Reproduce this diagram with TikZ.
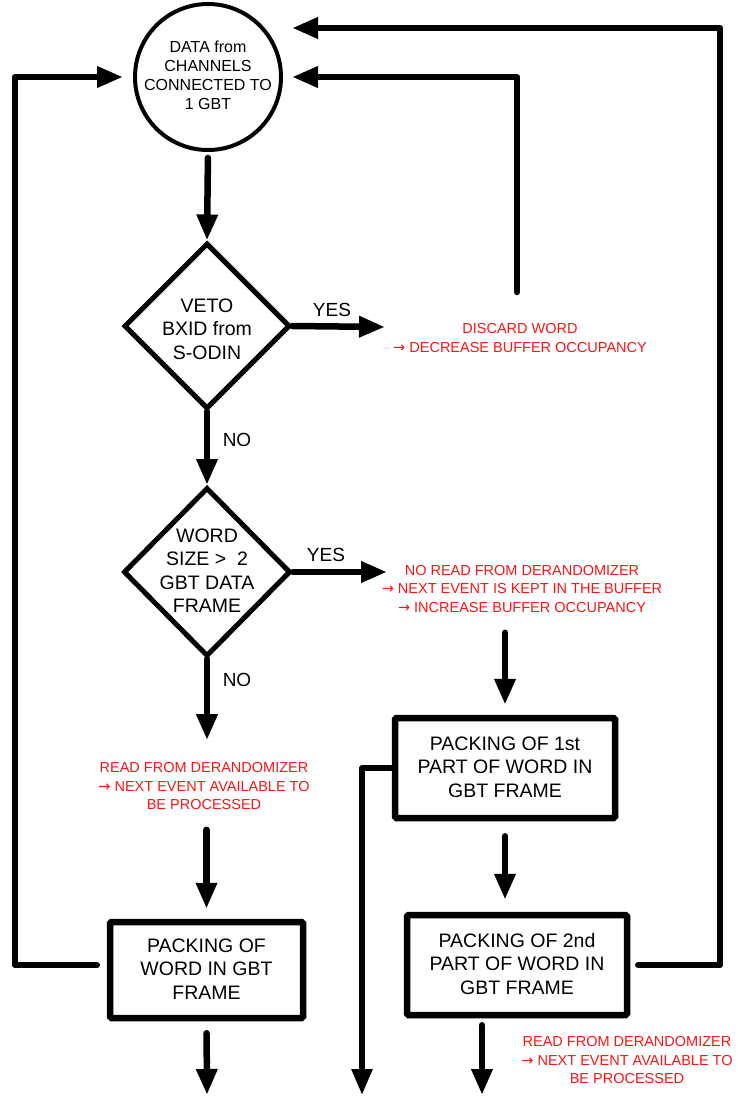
\documentclass[tikz,border=0pt]{standalone}
\usepackage{fontspec}
\setmainfont{Liberation Sans}
\newfontfamily\arrowfont{DejaVu Sans}
\usetikzlibrary{arrows.meta,shapes.geometric}
\definecolor{notered}{RGB}{250,20,20}
% arrow sign used inside the red notes
\newcommand\thenarrow{{\arrowfont →}}
% centred multi-line text that takes no room inside its shape
\newcommand\midtext[2][0pt]{\makebox[0pt]{\smash{\raisebox{#1}{\vbox to 0pt{\vss\hbox{\begin{tabular}{@{}c@{}}#2\end{tabular}}\vss}}}}}
\begin{document}
\begin{tikzpicture}[x=1pt,y=-1pt,
  startnode/.style={circle, draw, line width=4pt, minimum size=146pt, inner sep=0pt,
    font=\fontsize{16}{19}\selectfont},
  test/.style={diamond, draw, line width=5pt, inner sep=0pt, line join=miter,
    font=\fontsize{19.5}{23.5}\selectfont},
  proc/.style={rectangle, draw, line width=6.5pt, rounded corners=1.5pt, inner sep=0pt,
    font=\fontsize{19.5}{23.5}\selectfont},
  note/.style={text=notered, align=center, inner sep=0pt,
    font=\fontsize{14.5}{18.5}\selectfont},
  answer/.style={inner sep=0pt, font=\fontsize{19}{23}\selectfont},
  flow/.style={line width=6.5pt, line cap=round, line join=round,
    -{Triangle[length=26pt,width=20pt]}},
]
\useasboundingbox (0,0) rectangle (738,1097);

% shapes
\node[startnode] (c) at (208,77) {\midtext{DATA from\\CHANNELS\\CONNECTED TO\\1 GBT}};
\node[test, minimum width=166pt, minimum height=166pt] (d1) at (207,326)
  {\midtext[-5pt]{VETO\\BXID from\\S-ODIN}};
\node[test, minimum width=167pt, minimum height=169pt] (d2) at (207,572)
  {\midtext[-1pt]{WORD\\SIZE >\ \ 2\\GBT DATA\\FRAME}};
\node[proc, minimum width=220pt, minimum height=100pt] (b1) at (505,768)
  {\midtext[-1pt]{PACKING OF 1st\\PART OF WORD IN\\GBT FRAME}};
\node[proc, minimum width=220pt, minimum height=100pt] (b2) at (517,965)
  {\midtext[-1pt]{PACKING OF 2nd\\PART OF WORD IN\\GBT FRAME}};
\node[proc, minimum width=193pt, minimum height=96pt] (b3) at (206.5,970)
  {\midtext[-1pt]{PACKING OF\\WORD IN GBT\\FRAME}};

% red notes
\node[note] (t1) at (520,338) {DISCARD WORD\\\thenarrow\ DECREASE BUFFER OCCUPANCY};
\node[note] (t2) at (522,589) {NO READ FROM DERANDOMIZER\\\thenarrow\ NEXT EVENT IS KEPT IN THE BUFFER\\\thenarrow\ INCREASE BUFFER OCCUPANCY};
\node[note] (t3) at (204,786) {READ FROM DERANDOMIZER\\\thenarrow\ NEXT EVENT AVAILABLE TO\\BE PROCESSED};
\node[note] (t4) at (627,1060) {READ FROM DERANDOMIZER\\\thenarrow\ NEXT EVENT AVAILABLE TO\\BE PROCESSED};

% answers
\node[answer] (yes1) at (332,310) {YES};
\node[answer] (yes2) at (326,555) {YES};
\node[answer] (no1) at (237,440) {NO};
\node[answer] (no2) at (237,680) {NO};

% free ends and corners
\coordinate (tipA) at (385,327);
\coordinate (tipB) at (387,572);
\coordinate (tipG) at (292,28);
\coordinate (tipH) at (292,77);
\coordinate (tipI) at (123,77);
\coordinate (cornerL) at (15,77);
\coordinate (cornerR) at (720,28);
\coordinate (discardtop) at (517,292);
\coordinate (outJ) at (362,1095);
\coordinate (outK) at (482,1095);
\coordinate (outL) at (207,1095);

% main flow
\draw[flow, shorten <=6pt] (c.south) -- (d1.north);
\draw[flow] (d1.south) -- (d2.north);
\draw[flow] (d1.east) -- (tipA);
\draw[flow] (d2.east) -- (tipB);
\draw[flow, shorten >=22pt] (d2.south) -- (d2.south |- t3.north);
\draw[flow, shorten <=20pt, shorten >=10pt] (b3.north |- t3.south) -- (b3.north);
\draw[flow, shorten <=20pt, shorten >=10pt] (t2.south -| b1.north) -- (b1.north);
\draw[flow, shorten <=15pt, shorten >=12pt] (b1.south) -- (b1.south |- b2.north);
\draw[flow, shorten <=12pt] (b3.south) -- (outL);
\draw[flow, shorten <=7pt] (b2.south -| outK) -- (outK);
\draw[flow, line width=5.5pt] (b1.west) -| (outJ);

% loops back to the start
\draw[flow] (discardtop) |- (tipH);
\draw[flow] ([xshift=8pt]b2.east) -| (cornerR) -- (tipG);
\draw[flow] ([xshift=-10pt,yshift=5pt]b3.west) -| (cornerL) -- (tipI);
\end{tikzpicture}
\end{document}
